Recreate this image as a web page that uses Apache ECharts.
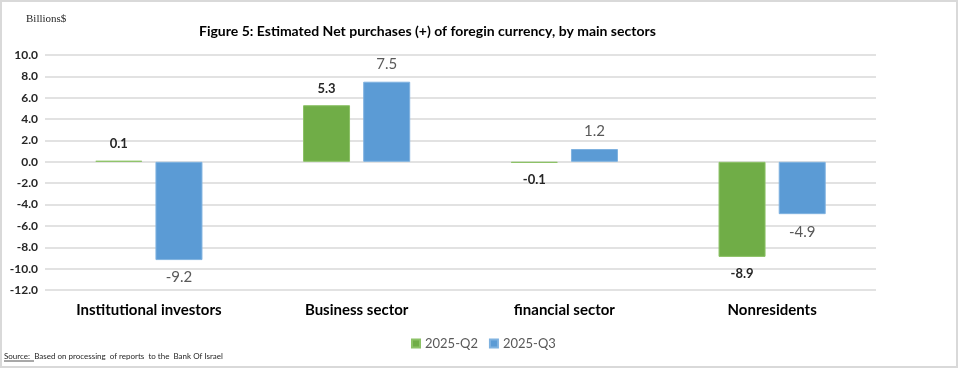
<!DOCTYPE html>
<html><head><meta charset="utf-8">
<script src="https://cdn.jsdelivr.net/npm/echarts@6/dist/echarts.min.js"></script>
<style>html,body{margin:0;padding:0;background:#fff}#c{width:958px;height:368px;box-sizing:border-box}</style>
</head><body><div id="c"></div>
<script>
const categories = ['Institutional investors', 'Business sector', 'financial sector', 'Nonresidents'];
const seriesNames = ['2025-Q2', '2025-Q3'];
const q2 = [0.1, 5.3, -0.1, -8.9];
const q3 = [-9.2, 7.5, 1.2, -4.9];
const yMin = -12, yMax = 10, yStep = 2;

const chart = echarts.init(document.getElementById('c'), null, {renderer: 'canvas'});
function lbl(bold, color, size) {
  return {
    show: true,
    position: 'top',
    distance: 10,
    fontFamily: 'Lato',
    fontSize: size,
    fontWeight: bold ? 'bold' : 'normal',
    color: color,
    formatter: p => p.value.toFixed(1)
  };
}
function mkData(arr, bold, color, size) {
  return arr.map(v => ({
    value: v,
    label: Object.assign(lbl(bold, color, size), {position: v < 0 ? 'bottom' : 'top'})
  }));
}
chart.setOption({
  animation: false,
  title: {
    text: 'Figure 5: Estimated Net purchases (+) of foregin currency, by main sectors',
    left: 194, top: 19,
    textStyle: {fontFamily: 'Lato', fontWeight: 'bold', fontSize: 14, color: '#000'}
  },
  grid: {left: 45, right: 82, top: 55, bottom: 78, containLabel: false},
  legend: {
    data: seriesNames,
    left: 406, top: 332,
    itemWidth: 8, itemHeight: 8, itemGap: 11,
    icon: 'rect',
    textStyle: {fontFamily: 'Lato', fontSize: 13, color: '#595959'}
  },
  xAxis: {
    type: 'category',
    data: categories,
    axisLine: {show: false},
    axisTick: {show: false},
    axisLabel: {fontFamily: 'Lato', fontWeight: 'bold', fontSize: 15, color: '#000', margin: 13}
  },
  yAxis: {
    type: 'value',
    min: yMin, max: yMax, interval: yStep,
    axisLine: {show: false},
    axisTick: {show: false},
    axisLabel: {fontFamily: 'Lato', fontWeight: 'bold', fontSize: 12, color: '#262626', margin: 7,
      formatter: v => v.toFixed(1)},
    splitLine: {lineStyle: {color: '#d9d9d9', width: 1.5}}
  },
  series: [
    {name: seriesNames[0], type: 'bar', data: mkData(q2, true, '#262626', 13),
     barWidth: 47, barGap: '28%',
     itemStyle: {color: '#70ad47', borderColor: '#8cc266', borderWidth: 1}},
    {name: seriesNames[1], type: 'bar', data: mkData(q3, false, '#595959', 15),
     barWidth: 47,
     itemStyle: {color: '#5b9bd5', borderColor: '#7fb2e0', borderWidth: 1}}
  ],
  graphic: [
    {type: 'rect', shape: {x: 1, y: 1, width: 956, height: 366}, style: {fill: 'none', stroke: '#d9d9d9', lineWidth: 2}, silent: true},
    {type: 'text', left: 26, top: 14, style: {text: 'Billions$', font: '11px "Liberation Serif"', fill: '#262626'}},
    {type: 'text', left: 4, top: 352, style: {text: 'Source:  Based on processing  of reports  to the  Bank Of Israel', font: '8px "Lato"', fill: '#262626'}},
    {type: 'line', shape: {x1: 4, y1: 361, x2: 34, y2: 361}, style: {stroke: '#262626', lineWidth: 0.8}}
  ]
});
</script></body></html>
